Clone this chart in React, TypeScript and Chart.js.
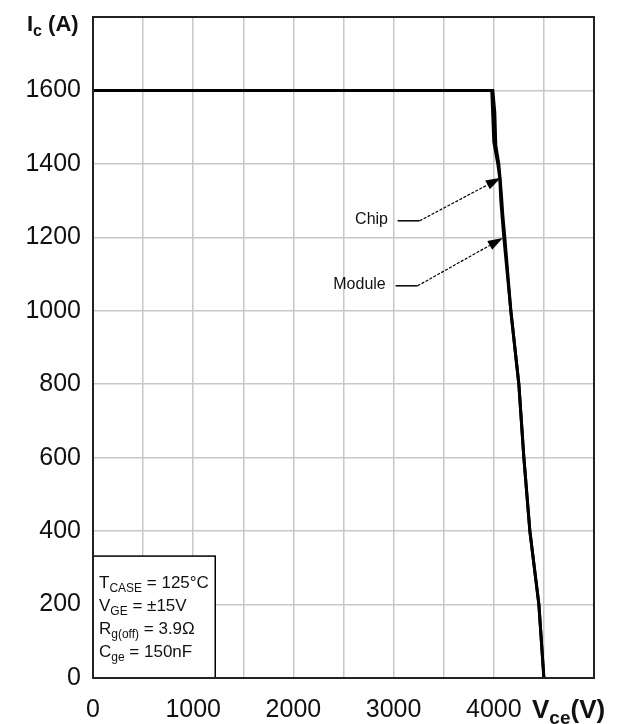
import React, { useEffect, useRef } from "react";
import { Chart, registerables } from "chart.js";

Chart.register(...registerables);

// ---- data ----
const chipV = [0, 3980, 4000, 4040, 4060, 4070, 4100, 4170, 4250, 4300, 4360, 4450, 4500];
const chipI = [1600, 1600, 1460, 1400, 1360, 1300, 1200, 1000, 800, 600, 400, 200, 0];
const moduleV = [0, 3990, 4010, 4020, 4050, 4075, 4090, 4110, 4170, 4250, 4300, 4360, 4450, 4500];
const moduleI = [1600, 1600, 1540, 1450, 1400, 1320, 1260, 1200, 1000, 800, 600, 400, 200, 0];

const xMin = 0, xMax = 5000, xStep = 500, xLabelStep = 1000;
const yMin = 0, yMax = 1800, yStep = 200;

const annotationNames = ["Chip", "Module"];
const annotationTextAt = [[2780, 1247], [2660, 1070]];
const annotationLineStart = [[3040, 1245], [3020, 1068]];
const annotationElbow = [[3260, 1245], [3240, 1068]];
const annotationTip = [[4070, 1362], [4090, 1198]];

const condBox = [0, 1220, 0, 332]; // xFrom, xTo, yFrom, yTo (data units)
const condLines: [string, string, string][] = [
  ["T", "CASE", " = 125°C"],
  ["V", "GE", " = ±15V"],
  ["R", "g(off)", " = 3.9Ω"],
  ["C", "ge", " = 150nF"],
];

const FONT = "'Liberation Sans', Arial, sans-serif";

function drawSub(ctx: CanvasRenderingContext2D, x: number, y: number, parts: [string, string, string], size: number, subSize: number, weight: string) {
  ctx.textAlign = "left";
  ctx.textBaseline = "alphabetic";
  ctx.font = `${weight} ${size}px ${FONT}`;
  ctx.fillText(parts[0], x, y);
  x += ctx.measureText(parts[0]).width;
  ctx.font = `${weight} ${subSize}px ${FONT}`;
  ctx.fillText(parts[1], x, y + size * 0.22);
  x += ctx.measureText(parts[1]).width;
  ctx.font = `${weight} ${size}px ${FONT}`;
  ctx.fillText(parts[2], x, y);
}

const overlay = {
  id: "overlay",
  afterDatasetsDraw(chart: any) {
    const ctx: CanvasRenderingContext2D = chart.ctx;
    const xs = chart.scales.x, ys = chart.scales.y;
    const ca = chart.chartArea;
    ctx.save();
    ctx.fillStyle = "#000";
    ctx.strokeStyle = "#000";

    // condition box
    const bx0 = xs.getPixelForValue(condBox[0]);
    const bx1 = xs.getPixelForValue(condBox[1]);
    const by0 = ys.getPixelForValue(condBox[3]);
    const by1 = ys.getPixelForValue(condBox[2]);
    ctx.fillStyle = "#fff";
    ctx.fillRect(bx0, by0, bx1 - bx0, by1 - by0);
    ctx.lineWidth = 1.5;
    ctx.strokeRect(bx0, by0, bx1 - bx0, by1 - by0);
    ctx.fillStyle = "#111";
    condLines.forEach((l, i) => {
      drawSub(ctx, bx0 + 6, by0 + 32 + i * 23, l, 17, 12, "normal");
    });

    // annotations
    annotationNames.forEach((name, i) => {
      const tx = xs.getPixelForValue(annotationTextAt[i][0]);
      const ty = ys.getPixelForValue(annotationTextAt[i][1]);
      ctx.font = `16px ${FONT}`;
      ctx.textAlign = "center";
      ctx.textBaseline = "middle";
      ctx.fillStyle = "#111";
      ctx.fillText(name, tx, ty);
      const sx = xs.getPixelForValue(annotationLineStart[i][0]);
      const sy = ys.getPixelForValue(annotationLineStart[i][1]);
      const ex = xs.getPixelForValue(annotationElbow[i][0]);
      const ey = ys.getPixelForValue(annotationElbow[i][1]);
      const px = xs.getPixelForValue(annotationTip[i][0]);
      const py = ys.getPixelForValue(annotationTip[i][1]);
      ctx.lineWidth = 1.5;
      ctx.setLineDash([]);
      ctx.beginPath();
      ctx.moveTo(sx, sy);
      ctx.lineTo(ex, ey);
      ctx.stroke();
      const ang = Math.atan2(py - ey, px - ex);
      const hl = 15, hw = 5;
      const bxp = px - hl * Math.cos(ang), byp = py - hl * Math.sin(ang);
      ctx.setLineDash([3, 1.5]);
      ctx.lineWidth = 1.2;
      ctx.beginPath();
      ctx.moveTo(ex, ey);
      ctx.lineTo(bxp, byp);
      ctx.stroke();
      ctx.setLineDash([]);
      ctx.fillStyle = "#000";
      ctx.beginPath();
      ctx.moveTo(px, py);
      ctx.lineTo(bxp - hw * Math.sin(ang), byp + hw * Math.cos(ang));
      ctx.lineTo(bxp + hw * Math.sin(ang), byp - hw * Math.cos(ang));
      ctx.closePath();
      ctx.fill();
    });

    // frame
    ctx.lineWidth = 2;
    ctx.strokeStyle = "#222";
    ctx.strokeRect(ca.left, ca.top, ca.right - ca.left, ca.bottom - ca.top);

    // axis titles
    ctx.fillStyle = "#111";
    drawSub(ctx, 27, 31, ["I", "c", " (A)"], 22, 16, "bold");
    drawSub(ctx, xs.getPixelForValue(xMax) - 62, 718, ["V", "ce", "(V)"], 26, 19, "bold");
    ctx.restore();
  },
};

export default function App() {
  const ref = useRef<HTMLCanvasElement>(null);
  useEffect(() => {
    if (!ref.current) return;
    const chart = new Chart(ref.current, {
      type: "line",
      data: {
        datasets: [
          {
            label: "Chip",
            data: chipV.map((v, i) => ({ x: v, y: chipI[i] })),
            borderColor: "#000",
            borderWidth: 3,
            pointRadius: 0,
            tension: 0,
          },
          {
            label: "Module",
            data: moduleV.map((v, i) => ({ x: v, y: moduleI[i] })),
            borderColor: "#000",
            borderWidth: 3,
            pointRadius: 0,
            tension: 0,
          },
        ],
      },
      options: {
        animation: false,
        responsive: false,
        devicePixelRatio: 1,
        layout: { padding: { top: 17, right: 31, left: 0, bottom: 0 } },
        plugins: { legend: { display: false }, tooltip: { enabled: false } },
        scales: {
          x: {
            type: "linear",
            min: xMin,
            max: xMax,
            border: { display: false },
            grid: { color: "#c8c8c8", lineWidth: 1.5, drawTicks: false },
            ticks: {
              stepSize: xStep,
              autoSkip: false,
              maxRotation: 0,
              padding: 17,
              color: "#111",
              font: { family: FONT, size: 25 },
              callback: (v: any) => (v % xLabelStep === 0 && v < xMax ? String(v) : ""),
            },
            afterFit: (s: any) => { s.height = 46; s.paddingLeft = 0; s.paddingRight = 0; },
          },
          y: {
            min: yMin,
            max: yMax,
            border: { display: false },
            grid: { color: "#c8c8c8", lineWidth: 1.5, drawTicks: false },
            ticks: {
              stepSize: yStep,
              padding: 12,
              color: "#111",
              font: { family: FONT, size: 25 },
              callback: (v: any) => (v === yMax ? "" : String(v)),
            },
            afterFit: (s: any) => { s.width = 93; s.paddingTop = 0; s.paddingBottom = 0; },
          },
        },
      },
      plugins: [overlay],
    });
    return () => chart.destroy();
  }, []);
  return (
    <div style={{ position: "absolute", left: 0, top: 0, width: 625, height: 724, background: "#fff" }}>
      <canvas ref={ref} width={625} height={724} style={{ width: 625, height: 724, display: "block" }} />
    </div>
  );
}
